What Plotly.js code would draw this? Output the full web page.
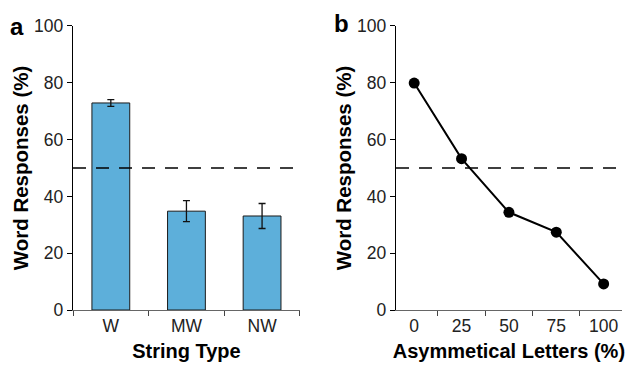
<!DOCTYPE html>
<html>
<head>
<meta charset="utf-8">
<script src="https://cdn.plot.ly/plotly-3.0.1.min.js"></script>
<style>html,body{margin:0;padding:0;background:#fff}#chart{width:630px;height:366px}</style>
</head>
<body>
<div id="chart"></div>
<script>
var stringTypes = ["W", "MW", "NW"];
var wordResp = [72.9, 34.8, 33.1];
var wordErr = [1.2, 3.7, 4.4];
var asymLetters = ["0", "25", "50", "75", "100"];
var asymResp = [79.9, 53.3, 34.4, 27.4, 9.2];
var chanceLevel = 50;

var font = "Liberation Sans, Arial, sans-serif";
var traces = [
  {
    type: "bar", x: stringTypes, y: wordResp, xaxis: "x", yaxis: "y",
    width: 0.5,
    marker: {color: "#5DAFDA", line: {color: "#1a1a1a", width: 1}},
    error_y: {type: "data", array: wordErr, visible: true, color: "#111", thickness: 1.3, width: 3.5},
    showlegend: false, hoverinfo: "none"
  },
  {
    type: "scatter", mode: "lines+markers", x: asymLetters, y: asymResp, xaxis: "x2", yaxis: "y2",
    line: {color: "#000", width: 2},
    marker: {color: "#000", size: 11},
    showlegend: false, hoverinfo: "none"
  }
];

function yax(anchor) {
  return {
    anchor: anchor, domain: [0.153, 0.929], range: [0, 100], tickvals: [0,20,40,60,80,100],
    showgrid: false, zeroline: false, showline: true, linecolor: "#000", linewidth: 1.2,
    ticks: "outside", ticklen: 5, tickcolor: "#000", tickwidth: 1,
    tickfont: {family: font, size: 17.5, color: "#222"},
    title: {text: "<b>Word Responses (%)</b>", font: {family: font, size: 20.5, color: "#000"}, standoff: 0}
  };
}
function xax(anchor, domain, title) {
  return {
    anchor: anchor, domain: domain, type: "category", tickson: "boundaries",
    showgrid: false, zeroline: false, showline: true, linecolor: "#666", linewidth: 1.2,
    ticks: "outside", ticklen: 5, tickcolor: "#444", tickwidth: 1,
    tickfont: {family: font, size: 17.5, color: "#222"},
    title: {text: "<b>" + title + "</b>", font: {family: font, size: 20, color: "#000"}, standoff: 8}
  };
}

var layout = {
  width: 630, height: 366,
  margin: {l: 0, r: 0, t: 0, b: 0},
  paper_bgcolor: "#fff", plot_bgcolor: "#fff",
  xaxis: xax("y", [0.1159, 0.476], "String Type"),
  yaxis: yax("x"),
  xaxis2: xax("y2", [0.6286, 0.987], "Asymmetical Letters (%)"),
  yaxis2: yax("x2"),
  shapes: [
    {type: "line", xref: "x domain", yref: "y", x0: 0, x1: 1, y0: chanceLevel, y1: chanceLevel,
     line: {color: "#000", width: 1.3, dash: "13px,10px"}},
    {type: "line", xref: "x2 domain", yref: "y2", x0: 0, x1: 1, y0: chanceLevel, y1: chanceLevel,
     line: {color: "#000", width: 1.3, dash: "13px,10px"}}
  ],
  annotations: [
    {text: "<b>a</b>", xref: "paper", yref: "paper", x: 17/630, y: 1 - 26.5/366, xanchor: "center", yanchor: "middle",
     showarrow: false, font: {family: font, size: 24, color: "#000"}},
    {text: "<b>b</b>", xref: "paper", yref: "paper", x: 341/630, y: 1 - 24/366, xanchor: "center", yanchor: "middle",
     showarrow: false, font: {family: font, size: 24, color: "#000"}}
  ]
};

Plotly.newPlot("chart", traces, layout, {displayModeBar: false, staticPlot: true});
</script>
</body>
</html>
